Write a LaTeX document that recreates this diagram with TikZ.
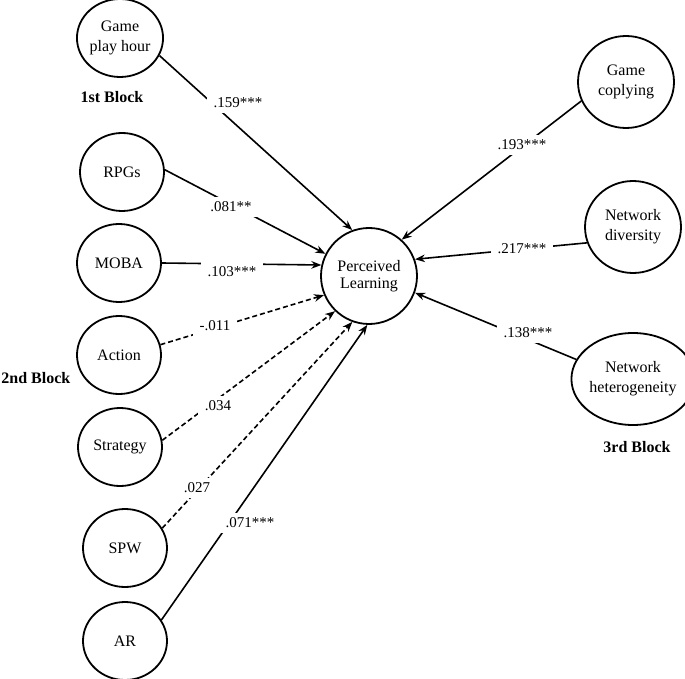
\documentclass[tikz,border=0pt]{standalone}
\usepackage{fontspec}
\setmainfont{Liberation Serif}
\usetikzlibrary{arrows.meta,shapes.geometric}

\begin{document}
\begin{tikzpicture}[x=0.5pt,y=-0.5pt,
    v/.style={ellipse,draw,line width=0.9pt,minimum width=42pt,minimum height=39pt,
              inner sep=0pt,align=center,font=\fontsize{8}{10}\selectfont},
    vr/.style={v,minimum width=48pt,minimum height=46pt},
    blk/.style={font=\fontsize{8}{9}\selectfont\bfseries},
    ar/.style={-{Stealth[length=5pt,width=3.8pt]},line width=0.8pt},
    ns/.style={ar,dash pattern=on 2.5pt off 1.5pt},
    lbl/.style={fill=white,inner xsep=3.5pt,inner ysep=2.5pt,font=\fontsize{7.5}{8}\selectfont}]
    \useasboundingbox (0,0) rectangle (685,679);
    % outcome
    \node[v,minimum width=48pt,minimum height=48pt,font=\fontsize{8}{8.5}\selectfont](pl) at (369,276){Perceived\\Learning};
    % 1st and 2nd block
    \node[v](hour) at (120,38){Game\\play hour};
    \node[v](rpg) at (122,172){RPGs};
    \node[v](moba) at (119,263){MOBA};
    \node[v](action) at (119,355){Action};
    \node[v](strat) at (120,447){Strategy};
    \node[v](spw) at (125,548){SPW};
    \node[v](arv) at (125,641){AR};
    % 3rd block
    \node[vr](copy) at (626,82){Game\\coplying};
    \node[vr](div) at (633,227){Network\\diversity};
    \node[vr](het) at (633,379){Network\\heterogeneity};
    \node[blk](b1) at (112,97){1st Block};
    \node[blk,anchor=west,inner sep=0pt](b2) at (1,378){2nd Block};
    \node[blk](b3) at (637,447){3rd Block};
    % paths
    \draw[ar](hour.-24)--(pl.110) node[lbl] at (238,103){.159***};
    \draw[ar](rpg.3)--(pl.153) node[lbl] at (231,207){.081**};
    \draw[ar](moba.east)--(pl.167) node[lbl] at (232,272){.103***};
    \draw[ns](action.14)--(pl.203) node[lbl] at (215,326){-.011};
    \draw[ns](strat.9)--(pl.226) node[lbl] at (218,406){.034};
    \draw[ns](spw.28)--(pl.250) node[lbl] at (197,488){.027};
    \draw[ar](arv.30)--(pl.268) node[lbl] at (250,523){.071***};
    \draw[ar](copy.203)--(pl.48) node[lbl] at (522,145){.193***};
    \draw[ar](div.199)--(pl.20) node[lbl] at (522,249){.217***};
    \draw[ar](het.161)--(pl.340) node[lbl] at (528,333){.138***};
\end{tikzpicture}
\end{document}
